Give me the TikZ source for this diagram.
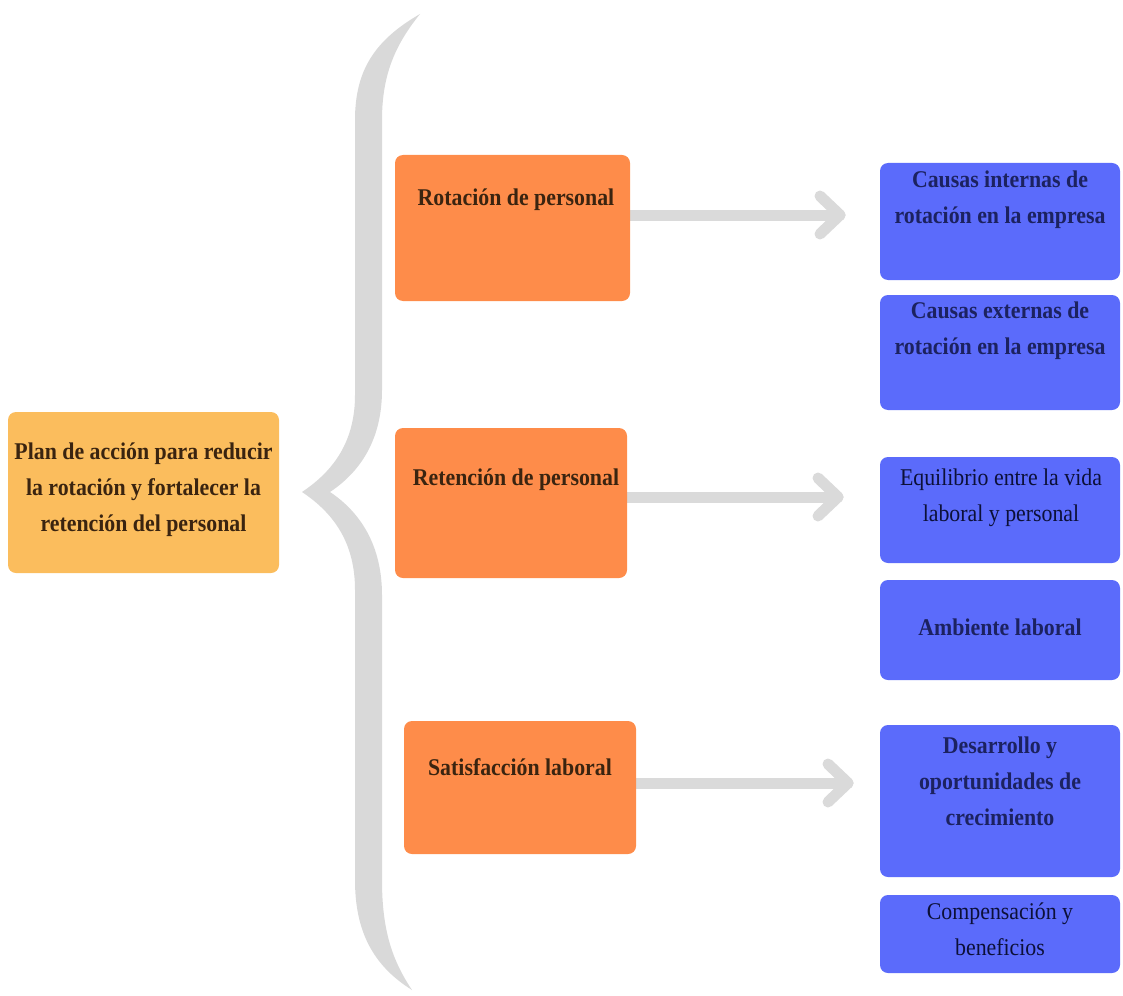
\documentclass[tikz,border=0pt]{standalone}
\usepackage{fontspec}
\setmainfont{Liberation Serif}[FakeStretch=0.91]
\usetikzlibrary{backgrounds}
\definecolor{bracegray}{HTML}{D9D9D9}
\definecolor{arrowgray}{HTML}{DADADA}
\definecolor{mainfill}{HTML}{FBBD5D}
\definecolor{catfill}{HTML}{FE8C4A}
\definecolor{subfill}{HTML}{5B6BFB}
\definecolor{maintext}{HTML}{3A2410}
\definecolor{subtext}{HTML}{1C2260}
\definecolor{subtextr}{HTML}{0C1038}
\tikzset{
  box/.style={rectangle, rounded corners=8pt, draw=none, inner sep=0pt},
  mainbox/.style={box, fill=mainfill},
  catbox/.style={box, fill=catfill},
  subbox/.style={box, fill=subfill},
  lbl/.style={align=center, inner sep=0pt, font=\fontsize{24}{36}\selectfont\bfseries},
  mainlbl/.style={lbl, text=maintext},
  sublbl/.style={lbl, text=subtext},
  sublblr/.style={sublbl, text=subtextr, font=\fontsize{24}{36}\selectfont},
  arrowline/.style={draw=arrowgray, line width=11pt, line cap=round, line join=round},
}
\begin{document}
\begin{tikzpicture}[x=1pt,y=-1pt]
\useasboundingbox (0,0) rectangle (1123,995);
% brace
\fill[bracegray] (420,14) .. controls (375,40) and (355,70) .. (355,120)
  -- (355,395) .. controls (355,440) and (335,470) .. (302,492)
  .. controls (335,514) and (355,544) .. (355,590)
  -- (355,880) .. controls (355,930) and (372,965) .. (412,990)
  .. controls (392,960) and (382,930) .. (382,880)
  -- (382,595) .. controls (382,545) and (360,512) .. (330,492)
  .. controls (360,472) and (382,440) .. (382,390)
  -- (382,120) .. controls (382,75) and (395,45) .. (420,14) -- cycle;
% main box
\node[mainbox, minimum width=271pt, minimum height=161pt] (main) at (143.5,492.5) {};
\node[mainlbl] (maint) at (143.5,490) {Plan de acción para reducir\\la rotación y fortalecer la\\retención del personal};
% category boxes
\node[catbox, minimum width=235pt, minimum height=146pt] (rot) at (512.5,228) {};
\node[mainlbl] (rott) at (516,200) {Rotación de personal};
\node[catbox, minimum width=232pt, minimum height=150pt] (ret) at (511,503) {};
\node[mainlbl] (rett) at (516,480) {Retención de personal};
\node[catbox, minimum width=232pt, minimum height=133pt] (sat) at (520,787.5) {};
\node[mainlbl] (satt) at (520,767) {Satisfacción laboral};
% sub boxes
\node[subbox, minimum width=240pt, minimum height=117pt] (b1) at (1000,221.5) {};
\node[sublbl] (b1t) at (1000,200) {Causas internas de\\rotación en la empresa};
\node[subbox, minimum width=240pt, minimum height=115pt] (b2) at (1000,352.5) {};
\node[sublbl] (b2t) at (1000,331) {Causas externas de\\rotación en la empresa};
\node[subbox, minimum width=240pt, minimum height=106pt] (b3) at (1000,510) {};
\node[sublblr] (b3t) at (1001,498) {Equilibrio entre la vida\\laboral y personal};
\node[subbox, minimum width=240pt, minimum height=100pt] (b4) at (1000,630) {};
\node[sublbl] (b4t) at (1000,627) {Ambiente laboral};
\node[subbox, minimum width=240pt, minimum height=152pt] (b5) at (1000,801) {};
\node[sublbl] (b5t) at (1000,781) {Desarrollo y\\oportunidades de\\crecimiento};
\node[subbox, minimum width=240pt, minimum height=78pt] (b6) at (1000,934) {};
\node[sublblr] (b6t) at (1000,929) {Compensación y\\beneficios};
% arrows
\coordinate (a1) at (840,215);
\coordinate (a2) at (838,497);
\coordinate (a3) at (848,783);
\begin{scope}[on background layer]
\draw[arrowline] (rot.east |- a1) -- (a1);
\draw[arrowline] ([shift={(-20,-19)}]a1) -- (a1) -- ([shift={(-20,19)}]a1);
\draw[arrowline] (ret.east |- a2) -- (a2);
\draw[arrowline] ([shift={(-20,-19)}]a2) -- (a2) -- ([shift={(-20,19)}]a2);
\draw[arrowline] (sat.east |- a3) -- (a3);
\draw[arrowline] ([shift={(-20,-19)}]a3) -- (a3) -- ([shift={(-20,19)}]a3);
\end{scope}
\end{tikzpicture}
\end{document}
